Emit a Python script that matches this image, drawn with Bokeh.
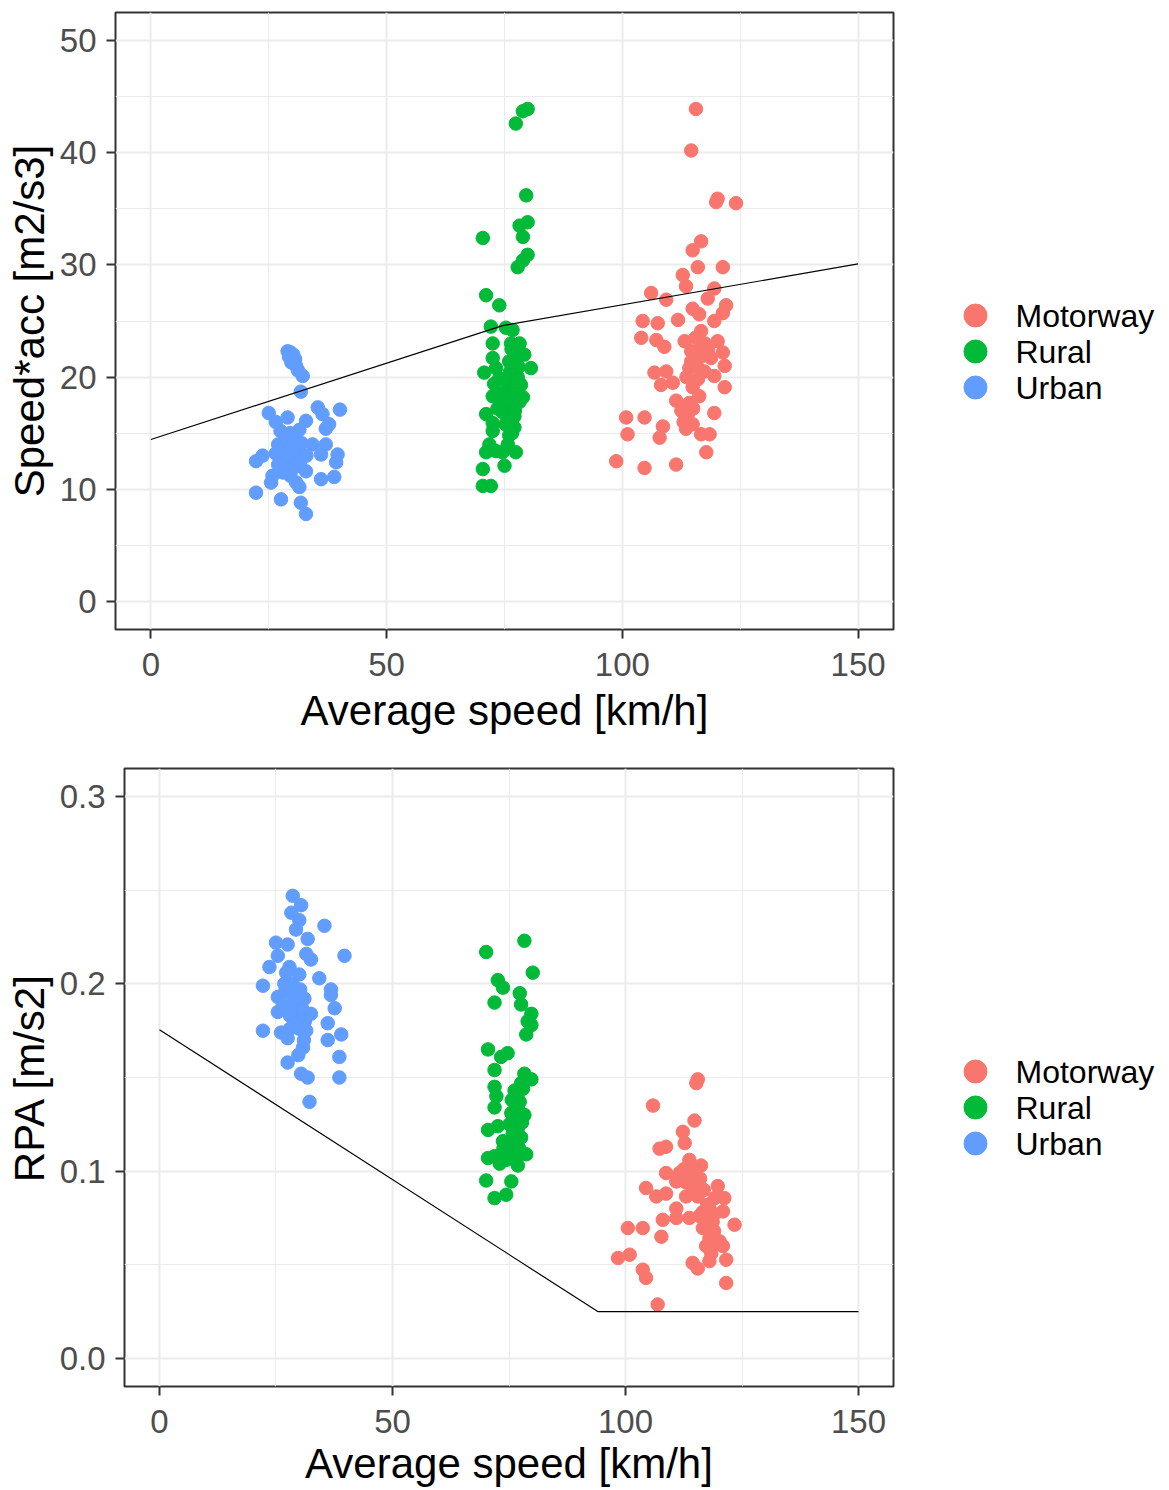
from bokeh.plotting import figure
from bokeh.models import Range1d, FixedTicker, NumeralTickFormatter, ColumnDataSource
from bokeh.core.properties import value
from bokeh.layouts import column, row
from bokeh.embed import file_html
from bokeh.resources import INLINE

# ---------------- data ----------------
categories = ["Motorway", "Rural", "Urban"]
colors = ["#F8766D", "#00BA38", "#619CFF"]

x_ticks = [0, 50, 100, 150]
top_y_ticks = [0, 10, 20, 30, 40, 50]
bottom_y_ticks = [0.0, 0.1, 0.2, 0.3]

# Top panel: Speed*acc [m2/s3]
top_urban_speed = [29.0, 29.6, 30.2, 29.3, 30.6, 29.8, 30.8, 31.2, 32.2, 31.8,
                   25.0, 35.4, 40.1, 29.0, 32.9, 26.5, 37.1, 37.8, 36.4,
                   34.3, 37.1, 36.1, 39.6, 39.3, 22.3, 23.7, 25.8, 25.5, 32.9, 36.1, 38.9,
                   30.8, 31.5, 22.3, 27.6, 31.8, 32.9,
                   27.5, 28.5, 29.5, 30.5, 31.5, 27.0, 28.0, 29.0, 30.0, 31.0, 32.0, 26.5,
                   27.8, 29.2, 30.4, 31.6, 28.6, 30.0, 28.0, 29.6, 33.0, 27.0, 29.0, 30.6]
top_urban_value = [22.3, 22.2, 22.0, 21.8, 21.6, 21.3, 21.0, 20.6, 20.1, 18.7,
                   16.8, 17.3, 17.1, 16.4, 16.1, 16.0, 15.4, 15.8, 16.7,
                   14.0, 14.0, 13.1, 13.1, 12.4, 12.5, 13.0, 11.2, 10.6, 11.6, 10.9, 11.1,
                   10.6, 10.2, 9.7, 9.1, 8.8, 7.8,
                   15.2, 14.8, 15.0, 14.6, 15.3, 14.0, 13.6, 14.2, 13.8, 13.4, 14.1, 13.2,
                   12.8, 12.6, 12.9, 12.4, 12.0, 11.9, 11.5, 11.2, 13.0, 12.2, 13.0, 12.0]

top_rural_speed = [79.9, 78.9, 77.4, 79.6, 79.9, 78.2, 78.9, 70.4, 79.9, 78.9, 77.8, 71.1,
                   73.9, 72.1, 75.3, 76.7, 72.5, 76.4, 78.2, 72.5, 79.2, 76.0, 70.7, 80.6,
                   73.9, 76.7, 78.5, 72.5, 73.9, 77.4, 78.9, 76.7, 71.1, 77.1, 72.5, 77.1,
                   72.5, 76.0, 71.8, 75.7, 73.2, 74.6, 77.4, 71.1, 75.0, 70.4, 70.4, 72.1,
                   76.5, 77.5, 78.0, 76.2, 77.8, 75.8, 76.9, 78.0, 75.5, 77.2, 76.3, 78.2,
                   75.2, 76.6, 74.8, 77.9, 73.2, 72.8, 74.5, 73.5]
top_rural_value = [43.9, 43.7, 42.6, 36.2, 33.8, 33.5, 32.5, 32.4, 30.9, 30.4, 29.8, 27.3,
                   26.4, 24.5, 24.4, 24.2, 23.0, 23.0, 23.0, 21.7, 22.0, 21.4, 20.4, 20.8,
                   19.9, 19.9, 19.3, 18.3, 18.2, 18.5, 18.2, 17.4, 16.7, 16.5, 15.9, 15.5,
                   15.2, 14.8, 14.0, 14.0, 13.4, 13.3, 13.3, 13.3, 12.1, 11.8, 10.3, 10.3,
                   22.5, 21.8, 20.9, 20.5, 20.0, 19.2, 18.8, 19.6, 17.8, 17.0, 16.2, 17.8,
                   15.8, 15.0, 18.6, 22.6, 20.8, 19.4, 16.9, 17.2]

top_motorway_speed = [115.6, 114.6, 120.2, 119.9, 124.1, 116.7, 114.9, 116.0, 121.3, 112.8,
                      113.5, 119.5, 106.1, 109.3, 118.1, 122.0, 114.9, 116.3, 121.3, 104.3,
                      107.5, 111.8, 119.5, 116.7, 104.0, 107.2, 108.9, 113.2, 120.2, 114.6,
                      116.7, 121.3, 114.6, 118.8, 121.7, 114.2, 106.8, 109.3, 117.4, 119.5,
                      108.2, 110.7, 114.9, 121.7, 116.3, 111.4, 114.2, 112.8, 113.9, 119.5,
                      100.8, 104.7, 108.6, 114.9, 113.5, 101.1, 107.9, 116.7, 118.5, 117.8,
                      98.7, 104.7, 111.4,
                      115.5, 117.5, 115.8, 117.0, 116.0, 113.6, 118.2, 112.5, 115.0, 113.0]
top_motorway_value = [43.9, 40.2, 35.9, 35.6, 35.5, 32.1, 31.3, 29.8, 29.8, 29.1,
                      28.1, 27.9, 27.5, 26.9, 27.0, 26.4, 26.1, 25.6, 25.7, 25.0,
                      24.8, 25.1, 25.0, 24.1, 23.5, 23.3, 22.7, 23.2, 23.2, 22.3,
                      22.6, 22.2, 21.4, 21.7, 21.0, 20.8, 20.4, 20.5, 20.5, 20.1,
                      19.3, 19.5, 19.1, 19.1, 18.3, 17.9, 17.7, 17.4, 16.7, 16.8,
                      16.4, 16.4, 15.6, 15.8, 15.4, 14.9, 14.6, 14.9, 14.9, 13.3,
                      12.5, 11.9, 12.2,
                      23.5, 23.0, 21.0, 21.9, 19.8, 20.0, 22.4, 17.0, 17.2, 16.0]

top_limit_speed = [0, 74.6, 150]
top_limit_value = [14.44, 24.59, 30.09]

# Bottom panel: RPA [m/s2]
bottom_urban_speed = [28.6, 30.4, 28.3, 30.0, 29.3, 35.4, 31.8, 25.0, 27.5, 25.4, 31.5, 32.5,
                      39.7, 23.6, 27.9, 27.2, 30.0, 34.3, 22.2, 26.8, 36.8, 25.4, 28.3, 31.1,
                      36.8, 25.4, 29.0, 32.5, 37.6, 29.7, 36.1, 31.5, 22.2, 26.1, 27.5, 36.1,
                      39.0, 30.8, 38.6, 27.5, 30.4, 31.8, 38.6, 32.2,
                      27.0, 28.8, 30.2, 29.5, 30.8, 28.0, 31.2, 30.0, 29.0, 26.5, 31.0, 28.5,
                      29.8, 28.0]
bottom_urban_value = [0.247, 0.242, 0.238, 0.234, 0.229, 0.231, 0.224, 0.222, 0.221, 0.215,
                      0.216, 0.213, 0.215, 0.209, 0.209, 0.206, 0.205, 0.203, 0.199, 0.200,
                      0.197, 0.193, 0.195, 0.192, 0.194, 0.185, 0.188, 0.184, 0.187, 0.181,
                      0.179, 0.175, 0.175, 0.174, 0.171, 0.170, 0.173, 0.166, 0.161, 0.158,
                      0.152, 0.150, 0.150, 0.137,
                      0.196, 0.191, 0.197, 0.185, 0.186, 0.183, 0.180, 0.176, 0.179, 0.189,
                      0.170, 0.200, 0.162, 0.176]

bottom_rural_speed = [78.3, 70.1, 80.1, 72.6, 73.7, 77.3, 71.9, 77.6, 79.8, 79.0, 79.8, 78.7,
                      70.5, 73.3, 74.7, 71.9, 78.3, 79.8, 71.9, 76.2, 77.6, 72.3, 71.9, 77.3,
                      75.5, 78.3, 70.5, 72.6, 75.1, 76.9, 77.6, 73.7, 70.5, 71.9, 74.4, 76.5,
                      78.7, 76.9, 73.0, 70.1, 75.5, 71.9, 74.4,
                      76.0, 77.0, 75.8, 76.5, 77.8, 75.2, 76.8, 78.0, 75.6, 74.6, 73.8, 77.2]
bottom_rural_value = [0.223, 0.217, 0.206, 0.202, 0.198, 0.195, 0.190, 0.189, 0.184, 0.180,
                      0.178, 0.173, 0.165, 0.161, 0.163, 0.154, 0.152, 0.149, 0.145, 0.143,
                      0.147, 0.140, 0.134, 0.137, 0.131, 0.130, 0.122, 0.124, 0.125, 0.123,
                      0.118, 0.116, 0.107, 0.108, 0.106, 0.107, 0.109, 0.103, 0.104, 0.095,
                      0.0945, 0.0856, 0.0874,
                      0.128, 0.133, 0.120, 0.116, 0.126, 0.112, 0.140, 0.144, 0.138, 0.110,
                      0.112, 0.112]

bottom_motorway_speed = [115.5, 115.2, 105.9, 114.8, 112.3, 112.7, 107.3, 108.7, 113.7, 116.2,
                         108.7, 111.6, 114.1, 110.9, 115.2, 104.4, 119.8, 108.7, 106.6, 113.0,
                         115.5, 119.1, 121.2, 110.9, 118.0, 120.9, 110.9, 113.7, 115.9, 108.0,
                         118.7, 123.4, 100.5, 103.7, 116.6, 107.7, 118.0, 120.2, 117.3, 120.9,
                         118.4, 100.9, 98.4, 121.6, 118.0, 114.4, 115.5, 103.7, 104.4, 121.6,
                         106.9,
                         114.0, 115.0, 116.0, 113.0, 116.8, 117.5, 116.5, 119.0, 117.5, 119.0,
                         118.5, 112.5, 114.6]
bottom_motorway_value = [0.149, 0.147, 0.135, 0.127, 0.121, 0.115, 0.112, 0.113, 0.106, 0.103,
                         0.099, 0.099, 0.098, 0.0945, 0.0945, 0.091, 0.092, 0.088, 0.0865, 0.0865,
                         0.0865, 0.0856, 0.0856, 0.080, 0.080, 0.0785, 0.075, 0.075, 0.076, 0.074,
                         0.073, 0.0714, 0.0696, 0.0696, 0.0696, 0.065, 0.064, 0.0625, 0.060, 0.060,
                         0.056, 0.0554, 0.0536, 0.0527, 0.052, 0.051, 0.048, 0.0474, 0.043, 0.0403,
                         0.0288,
                         0.102, 0.100, 0.096, 0.094, 0.090, 0.082, 0.078, 0.077, 0.072, 0.068,
                         0.060, 0.101, 0.091]

bottom_limit_speed = [0, 94.05, 150]
bottom_limit_value = [0.1755, 0.025, 0.025]

FONT = "Liberation Sans"
MAIN_W = 903      # main figure width (frame right edge at 893)
LEG_W = 1169 - MAIN_W
FIG_H = 745


def make_panel(series, limit_x, limit_y, y_ticks, y_minor, y_range, y_label,
               min_left, min_top, min_bottom, title_standoff, y_fmt=None):
    p = figure(width=MAIN_W, height=FIG_H, output_backend="svg", toolbar_location=None,
               x_range=Range1d(-7.5, 157.5), y_range=Range1d(*y_range),
               min_border_left=min_left, min_border_right=MAIN_W - 893,
               min_border_top=min_top, min_border_bottom=min_bottom)
    p.background_fill_color = "white"
    p.border_fill_color = "white"
    p.outline_line_color = "#333333"
    p.outline_line_width = 2

    p.xaxis.ticker = FixedTicker(ticks=x_ticks, minor_ticks=[-25, 25, 75, 125, 175])
    p.yaxis.ticker = FixedTicker(ticks=y_ticks, minor_ticks=y_minor)
    if y_fmt:
        p.yaxis.formatter = NumeralTickFormatter(format=y_fmt)

    for g in (p.xgrid, p.ygrid):
        g.grid_line_color = "#EBEBEB"
        g.grid_line_width = 2
        g.minor_grid_line_color = "#EBEBEB"
        g.minor_grid_line_width = 1

    for ax in (p.xaxis, p.yaxis):
        ax.axis_line_color = None
        ax.major_tick_line_color = "#333333"
        ax.major_tick_line_width = 2
        ax.major_tick_out = 9
        ax.major_tick_in = 0
        ax.minor_tick_line_color = None
        ax.major_label_text_font = FONT
        ax.major_label_text_font_size = "33px"
        ax.major_label_text_color = "#4D4D4D"
        ax.axis_label_text_font = FONT
        ax.axis_label_text_font_size = "42px"
        ax.axis_label_text_font_style = "normal"
        ax.axis_label_text_color = "black"
    p.xaxis.axis_label = "Average speed [km/h]"
    p.yaxis.axis_label = y_label
    p.xaxis.major_label_standoff = 14
    p.xaxis.axis_label_standoff = title_standoff
    p.yaxis.major_label_standoff = 10
    p.yaxis.axis_label_standoff = 4

    for (color, (xs, ys)) in zip(colors, series):
        p.scatter(xs, ys, size=13.5, color=color, line_color=color)

    p.line(limit_x, limit_y, line_color="black", line_width=1.2)
    return p


def make_legend(first_item_y, frame_top, frame_bottom):
    # key panel to the right of each plot; its frame is aligned with the plot's frame,
    # so its y range is expressed in the figure's pixel rows.
    lg = figure(width=LEG_W, height=FIG_H, output_backend="svg", toolbar_location=None,
                x_range=Range1d(0, LEG_W), y_range=Range1d(frame_bottom, frame_top),
                min_border=0, x_axis_type=None, y_axis_type=None)
    lg.outline_line_color = None
    lg.grid.visible = False
    lg.background_fill_color = "white"
    lg.border_fill_color = "white"
    n = len(categories)
    src = ColumnDataSource(dict(
        x=[975 - MAIN_W] * n,
        tx=[1015 - MAIN_W] * n,
        y=[first_item_y + 36 * i for i in range(n)],
        label=categories,
        color=colors,
    ))
    lg.scatter("x", "y", source=src, size=23, color="color", line_color="color")
    lg.text("tx", "y", text="label", source=src, text_font=value(FONT),
            text_font_size="32px", text_baseline="middle", text_align="left",
            text_color="black")
    return lg


p1 = make_panel(
    [(top_motorway_speed, top_motorway_value),
     (top_rural_speed, top_rural_value),
     (top_urban_speed, top_urban_value)],
    top_limit_speed, top_limit_value, top_y_ticks, [5, 15, 25, 35, 45],
    (-2.5, 52.5), "Speed*acc [m2/s3]", 115, 12, 116, 8)

p2 = make_panel(
    [(bottom_motorway_speed, bottom_motorway_value),
     (bottom_rural_speed, bottom_rural_value),
     (bottom_urban_speed, bottom_urban_value)],
    bottom_limit_speed, bottom_limit_value, bottom_y_ticks, [0.05, 0.15, 0.25],
    (-0.015, 0.315), "RPA [m/s2]", 124, 23, 104, 4, y_fmt="0.0")

l1 = make_legend(315, 12, 629)
l2 = make_legend(1071 - FIG_H, 23, 641)

layout = column(row(p1, l1), row(p2, l2))
open("out.html", "w").write(file_html(layout, INLINE))
